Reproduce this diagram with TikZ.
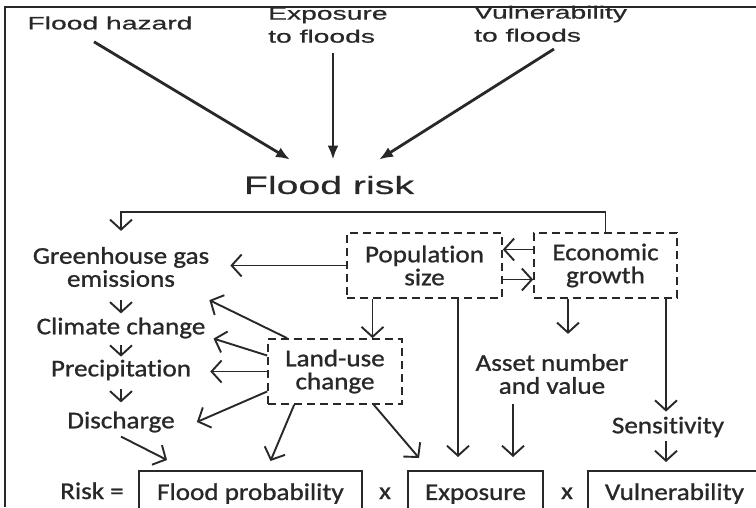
\documentclass[tikz,border=0pt]{standalone}
\usepackage{fontspec}
\usepackage{xcolor}
\newfontfamily\headfont[FakeStretch=1.57,FakeBold=0.6]{Liberation Sans}
\newfontfamily\bodyfont[FakeStretch=1.13,FakeBold=1,Ligatures=NoCommon]{Carlito}
\definecolor{ink}{RGB}{40,40,40}
\usetikzlibrary{arrows.meta,positioning}

\begin{document}
\begin{tikzpicture}[x=1pt, y=-1pt, color=ink,
    every node/.style={inner sep=0pt, text=ink},
    head/.style={font=\headfont\fontsize{18}{23}\selectfont, align=left},
    txt/.style={font=\bodyfont\fontsize{24}{23}\selectfont, align=center},
    dashbox/.style={txt, draw, dash pattern=on 8pt off 5pt, line width=1.7pt, minimum height=65pt},
    openbox/.style={txt, draw, line width=1.9pt, anchor=north, minimum height=48pt, text height=16pt, text depth=6pt},
    arr/.style={-{Straight Barb[length=10pt,width=22pt,line width=1.9pt]}, line width=1.9pt},
    toparr/.style={-{Latex[length=14pt,width=11pt]}, line width=2.8pt}]
    \useasboundingbox (0,0) rectangle (756,507);
    \clip (0,0) rectangle (756,507);
    % frame (left and top edge only)
    \draw[line width=1.8pt] (5,507) |- (756,7);
    % the three components of flood risk
    \node[head] (hazard) at (110,23) {Flood hazard};
    \node[head, anchor=south west] (exptop) at (268,43) {Exposure\\to floods};
    \node[head, anchor=south west] (vultop) at (474,42) {Vulnerability\\to floods};
    \node[font=\headfont\fontsize{25}{30}\selectfont] (risk) at (329,185) {Flood risk};
    \draw[toparr] ([xshift=-16pt,yshift=-12pt]hazard.south) -- ([xshift=-39pt,yshift=16pt]risk.north);
    \draw[toparr] ([xshift=65pt,yshift=-10pt]exptop.south west) -- ([xshift=4pt,yshift=16pt]risk.north);
    \draw[toparr] ([xshift=80pt,yshift=-7pt]vultop.south west) -- ([xshift=50pt,yshift=16pt]risk.north);
    % climate chain on the left
    \node[txt] (ghg) at (121,267) {Greenhouse gas\\emissions};
    \node[txt] (climate) at (121,328) {Climate change};
    \node[txt] (precip) at (121,370) {Precipitation};
    \node[txt] (discharge) at (121,422) {Discharge};
    % drivers (dashed)
    \node[dashbox, minimum width=155pt] (pop) at (424.5,265.5) {Population\\size};
    \node[dashbox, minimum width=143pt] (econ) at (605.5,265.5) {Economic\\growth};
    \node[dashbox, minimum width=134pt] (landuse) at (335,371.5) {Land-use\\change};
    \node[txt] (asset) at (552,374) {Asset number\\and value};
    \node[txt] (sens) at (668,427) {Sensitivity};
    % risk equation (boxes cut by the lower edge)
    \node[txt, anchor=base] (riskeq) at (92,499) {Risk =};
    \node[openbox, minimum width=223pt] (prob) at (250.5,470) {Flood probability};
    \node[txt, anchor=base] (times1) at (385,499) {x};
    \node[openbox, minimum width=135pt] (expo) at (475.5,470) {Exposure};
    \node[txt, anchor=base] (times2) at (567,499) {x};
    \node[openbox, minimum width=173pt] (vuln) at (674.5,470) {Vulnerability};
    % feedback line below flood risk
    \draw[arr] (econ.north) -- ++(0,-20) -| ([yshift=16pt]ghg.north);
    % left chain
    \draw[arr, shorten <=13pt, shorten >=4pt] (ghg.south) -- (climate.north);
    \draw[arr, shorten <=6pt, shorten >=3pt] (climate.south) -- (precip.north);
    \draw[arr, shorten <=9pt, shorten >=9pt] (precip.south) -- (discharge.north);
    \draw[arr] ([yshift=-4pt]discharge.south) -- ([xshift=29pt,yshift=10pt]prob.north west);
    % population and economy
    \draw[arr, shorten >=21pt] (pop.west) -- (pop.west -| ghg.east);
    \draw[arr] ([yshift=16pt]econ.west) -- ([yshift=16pt]pop.east);
    \draw[arr] ([yshift=-14pt]pop.east) -- ([yshift=-14pt]econ.west);
    \draw[arr] ([xshift=-52pt]pop.south) -- ([xshift=-52pt]pop.south |- landuse.north);
    \draw[arr, shorten >=13pt] ([xshift=33.5pt]pop.south) -- ([xshift=33.5pt]pop.south |- expo.north);
    \draw[arr, shorten >=20pt] ([xshift=-37.5pt]econ.south) -- ([xshift=-37.5pt]econ.south |- asset.north);
    \draw[arr, shorten >=5pt] ([xshift=60.5pt]econ.south) -- ([xshift=60.5pt]econ.south |- sens.north);
    % land-use change
    \draw[arr] ([xshift=20pt]landuse.north west) -- ([yshift=-13pt]ghg.south east);
    \draw[arr] ([yshift=16pt]landuse.west) -- ([xshift=8pt]climate.south east);
    \draw[arr, shorten >=19pt] (landuse.west) -- (landuse.west -| precip.east);
    \draw[arr] ([yshift=-20pt]landuse.west) -- ([xshift=22pt]discharge.east);
    \draw[arr] ([xshift=27pt]landuse.south west) -- ([xshift=20pt,yshift=9pt]prob.north);
    \draw[arr] ([xshift=-29pt]landuse.south east) -- ([xshift=12pt,yshift=12pt]expo.north west);
    % into the equation
    \draw[arr, shorten <=10pt, shorten >=13pt] ([xshift=-39pt]asset.south) -- ([xshift=-39pt]asset.south |- expo.north);
    \draw[arr, shorten <=4pt, shorten >=8pt] ([xshift=-2pt]sens.south) -- ([xshift=-2pt]sens.south |- vuln.north);
\end{tikzpicture}
\end{document}
